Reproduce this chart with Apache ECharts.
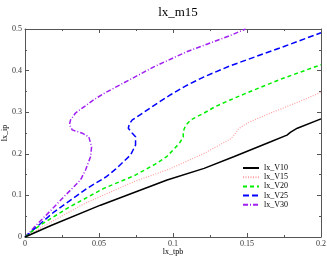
<!DOCTYPE html>
<html><head><meta charset="utf-8">
<script src="https://cdn.jsdelivr.net/npm/echarts@6/dist/echarts.min.js"></script>
<style>html,body{margin:0;padding:0;background:#fff}#c{width:327px;height:257px}</style>
</head><body><div id="c"></div>
<script>
const titleText = "lx_m15";
const xName = "lx_tpb";
const yName = "lx_ip";
const seriesNames = ["lx_V10","lx_V15","lx_V20","lx_V25","lx_V30"];
const V10 = [[0,0],[0.0172,0.027],[0.051,0.0765],[0.096,0.137],[0.121,0.165],[0.141,0.193],[0.166,0.229],[0.177,0.245],[0.1795,0.252],[0.184,0.2615],[0.2,0.284]];
const V15 = [[0,0],[0.01,0.021],[0.0397,0.0795],[0.0736,0.133],[0.098,0.164],[0.121,0.201],[0.139,0.236],[0.1423,0.2495],[0.144,0.259],[0.148,0.269],[0.152,0.277],[0.166,0.298],[0.1885,0.33],[0.2,0.348]];
const V20 = [[0,0],[0.01,0.028],[0.03,0.072],[0.0533,0.117],[0.0736,0.147],[0.088,0.175],[0.096,0.194],[0.0995,0.207],[0.104,0.224],[0.107,0.24],[0.1068,0.253],[0.1085,0.268],[0.112,0.2815],[0.121,0.298],[0.1288,0.314],[0.139,0.33],[0.151,0.348],[0.174,0.381],[0.2,0.414]];
const V25 = [[0,0],[0.0195,0.06],[0.042,0.117],[0.055,0.145],[0.0612,0.163],[0.0713,0.197],[0.0747,0.221],[0.0747,0.241],[0.0725,0.2495],[0.0698,0.2615],[0.0705,0.272],[0.0725,0.2815],[0.078,0.294],[0.087,0.316],[0.0984,0.342],[0.109,0.364],[0.121,0.385],[0.139,0.412],[0.175,0.458],[0.2,0.491]];
const V30 = [[0,0],[0.008,0.03],[0.015,0.055],[0.0262,0.0965],[0.032,0.117],[0.0375,0.137],[0.0409,0.161],[0.0443,0.193],[0.045,0.217],[0.0431,0.241],[0.0387,0.2495],[0.0319,0.2575],[0.030,0.27],[0.0308,0.2815],[0.0341,0.298],[0.0465,0.33],[0.0533,0.345],[0.0702,0.377],[0.087,0.409],[0.1097,0.446],[0.1378,0.483],[0.149,0.5]];
const seriesData = [V10,V15,V20,V25,V30];

const FONT = "'Liberation Serif','DejaVu Serif',serif";
const styles = [
  {color:'#000000', width:1.5, type:'solid'},
  {color:'#ff9f9f', width:1.2, type:[1,1.5]},
  {color:'#00ee00', width:1.5, type:[4,3]},
  {color:'#0000ff', width:1.5, type:[6,3]},
  {color:'#a020f0', width:1.5, type:[5,2,1,2]}
];
function axisCommon(show){
  return {
    type:'value',
    axisLine:{show:true,onZero:false,lineStyle:{color:'#555',width:1}},
    axisTick:{show:true,inside:true,length:4,lineStyle:{color:'#555'}},
    minorTick:{show:true,splitNumber:2,length:2,lineStyle:{color:'#555'}},
    splitLine:{show:false},
    axisLabel:{show:show,fontFamily:FONT,fontSize:8,color:'#333',margin:3},
  };
}
const chart = echarts.init(document.getElementById('c'),null,{renderer:'canvas'});
chart.setOption({
  animation:false,
  backgroundColor:'#fff',
  title:{text:titleText,left:173,textAlign:'center',top:1,textStyle:{fontFamily:FONT,fontSize:13,fontWeight:'normal',color:'#000'}},
  grid:{left:25,right:6,top:29,bottom:20,containLabel:false,outerBoundsMode:'none'},
  legend:{orient:'vertical',left:237,top:159,itemWidth:16,itemHeight:8,itemGap:1.2,
    itemStyle:{opacity:0},
    textStyle:{fontFamily:FONT,fontSize:8,color:'#000',lineHeight:8},data:seriesNames},
  xAxis:[
    Object.assign(axisCommon(true),{min:0,max:0.2,interval:0.05,position:'bottom',name:xName,nameLocation:'middle',nameGap:11,nameMoveOverlap:false,nameTextStyle:{fontFamily:FONT,fontSize:8,color:'#000'}}),
    Object.assign(axisCommon(false),{min:0,max:0.2,interval:0.05,position:'top'})
  ],
  yAxis:[
    Object.assign(axisCommon(true),{min:0,max:0.5,interval:0.1,position:'left',name:yName,nameLocation:'middle',nameGap:16,nameMoveOverlap:false,nameTextStyle:{fontFamily:FONT,fontSize:8,color:'#000'}}),
    Object.assign(axisCommon(false),{min:0,max:0.5,interval:0.1,position:'right'})
  ],
  series: seriesNames.map((n,i)=>({
    name:n,type:'line',data:seriesData[i],symbol:'none',
    lineStyle:styles[i],itemStyle:{color:styles[i].color},clip:true,z:10-i
  }))
});
</script></body></html>
